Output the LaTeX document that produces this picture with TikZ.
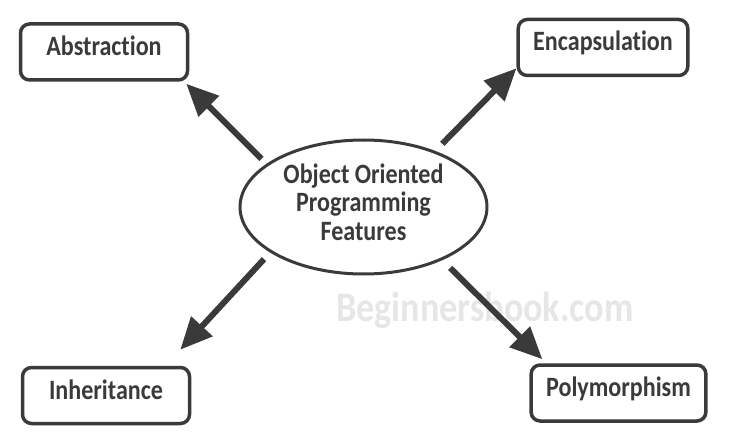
\documentclass[tikz,border=0pt]{standalone}
\usepackage{fontspec}
\setmainfont{Carlito}[FakeStretch=0.86, Ligatures={NoCommon}]
\usetikzlibrary{arrows.meta,shapes.geometric}
\definecolor{inkgray}{HTML}{3A3A3A}
\definecolor{markgray}{HTML}{E6E6E6}
\begin{document}
\begin{tikzpicture}[x=1pt,y=-1pt,>={Triangle[length=32pt,width=28pt]},
        feature/.style={draw=inkgray, line width=3.5pt, rounded corners=9pt, minimum width=167pt, minimum height=56pt, inner xsep=15pt, text height=19pt, text depth=12pt, text=inkgray, font=\bfseries\fontsize{28}{30}\selectfont},
        core/.style={draw=inkgray, ellipse, line width=3pt, minimum width=247pt, minimum height=134pt, inner sep=0pt, align=center, text depth=10pt, text=inkgray, font=\bfseries\fontsize{28}{28.5}\selectfont},
        link/.style={->, draw=inkgray, line width=6pt}]
        \useasboundingbox (0,0) rectangle (753,441);
        \node (mark) [text=markgray, font=\bfseries\fontsize{42}{44}\selectfont] at (485,310) {Beginnersbook.com};
        \node (oop) [core] at (363.5,207) {Object Oriented\\Programming\\Features};
        \node (abstraction) [feature] at (104,52) {Abstraction};
        \node (encapsulation) [feature] at (603,47.5) {Encapsulation};
        \node (inheritance) [feature] at (106,395.5) {Inheritance};
        \node (polymorphism) [feature] at (618.5,393) {Polymorphism};

        \draw[link, shorten <=7pt] (oop.156) -- ([shift={(-3pt,-2pt)}]abstraction.south east);
        \draw[link, shorten <=10pt] (oop.38) -- ([yshift=9pt]encapsulation.south west);
        \draw[link, shorten <=9pt] (oop.206) -- ([shift={(-11pt,16pt)}]inheritance.north east);
        \draw[link, shorten <=11pt] (oop.326) -- ([shift={(13pt,4pt)}]polymorphism.north west);
    \end{tikzpicture}
\end{document}
